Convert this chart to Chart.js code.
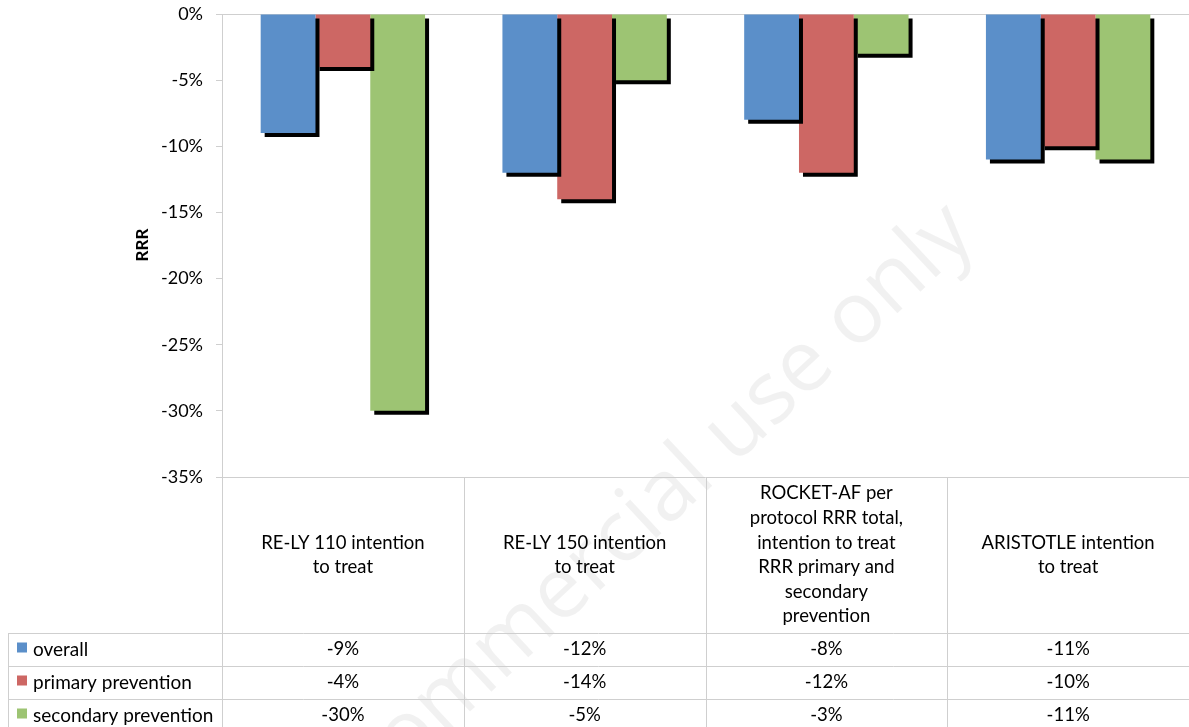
<!DOCTYPE html>
<html>
<head>
<meta charset="utf-8">
<script src="https://cdn.jsdelivr.net/npm/chart.js@4"></script>
<style>
  html, body { margin: 0; padding: 0; background: #fff; }
  #wrap { position: relative; width: 1189px; height: 727px; overflow: hidden; }
</style>
</head>
<body>
<div id="wrap"><canvas id="rrrChart" width="1189" height="727"></canvas></div>
<script>
// categories (multi-line, as printed in the table header)
const trials = [
  ["RE-LY 110 intention", "to treat"],
  ["RE-LY 150 intention", "to treat"],
  ["ROCKET-AF per", "protocol RRR total,", "intention to treat", "RRR primary and", "secondary", "prevention"],
  ["ARISTOTLE intention", "to treat"]
];

const overall = [-9, -12, -8, -11];
const primaryPrevention = [-4, -14, -12, -10];
const secondaryPrevention = [-30, -5, -3, -11];

const seriesNames = ["overall", "primary prevention", "secondary prevention"];
const seriesColors = ["#5b8fc9", "#cd6764", "#9dc473"];

const yTicks = [0, -5, -10, -15, -20, -25, -30, -35];

const FONT = "Lato, 'Open Sans', sans-serif";
const GRID = "#cfcfcf";
const INK = "#000";

// 🔹 drop shadow under the bars (black, no blur)
const barShadow = {
  id: "barShadow",
  beforeDatasetsDraw(chart) {
    const c = chart.ctx;
    c.save();
    c.shadowColor = "#000";
    c.shadowOffsetX = 4;
    c.shadowOffsetY = 4;
    c.shadowBlur = 0;
  },
  afterDatasetsDraw(chart) {
    chart.ctx.restore();
  }
};

// 🔹 watermark behind everything
const watermark = {
  id: "watermark",
  beforeDraw(chart) {
    const c = chart.ctx;
    c.save();
    c.translate(978, 238);
    c.rotate(-43 * Math.PI / 180);
    c.font = "86px 'Open Sans', sans-serif";
    c.fillStyle = "rgba(0,0,0,0.055)";
    c.textAlign = "right";
    c.textBaseline = "alphabetic";
    c.fillText("non-commercial use only", 0, 0);
    c.restore();
  }
};

// 🔹 data table under the plot + axis title
const dataTable = {
  id: "dataTable",
  afterDraw(chart) {
    const c = chart.ctx;
    const area = chart.chartArea;
    const x = chart.scales.x;
    const colW = (area.right - area.left) / trials.length;
    const headTop = area.bottom;
    const headH = 156;
    const rowH = 33;
    const rowsTop = headTop + headH;
    const legendLeft = 8;
    const values = [overall, primaryPrevention, secondaryPrevention];

    c.save();
    c.strokeStyle = GRID;
    c.lineWidth = 1;

    // horizontal lines
    c.beginPath();
    c.moveTo(area.left, Math.round(headTop) + 0.5);
    c.lineTo(area.right, Math.round(headTop) + 0.5);
    for (let r = 0; r <= values.length; r++) {
      const yy = Math.round(rowsTop + r * rowH) + 0.5;
      c.moveTo(legendLeft, yy);
      c.lineTo(area.right, yy);
    }
    // vertical lines
    for (let i = 0; i <= trials.length; i++) {
      const xx = Math.round(area.left + i * colW) + 0.5;
      c.moveTo(xx, headTop);
      c.lineTo(xx, chart.height);
    }
    c.moveTo(legendLeft + 0.5, rowsTop);
    c.lineTo(legendLeft + 0.5, chart.height);
    c.stroke();

    // header labels
    c.fillStyle = INK;
    c.font = "18.5px " + FONT;
    c.textAlign = "center";
    c.textBaseline = "middle";
    const lineH = 24.6;
    trials.forEach((lines, i) => {
      const cx = x.getPixelForValue(i);
      const cy = headTop + headH / 2;
      const start = cy - (lines.length - 1) * lineH / 2;
      lines.forEach((t, k) => c.fillText(t, cx, start + k * lineH));
    });

    // value rows
    values.forEach((arr, r) => {
      const cy = rowsTop + r * rowH + rowH / 2;
      arr.forEach((v, i) => {
        c.fillText(v + "%", x.getPixelForValue(i), cy);
      });
      c.fillStyle = seriesColors[r];
      c.fillRect(legendLeft + 9, cy - 7, 10, 10);
      c.fillStyle = INK;
      c.textAlign = "left";
      c.font = "19px " + FONT;
      c.fillText(seriesNames[r], legendLeft + 25, cy);
      c.font = "18.5px " + FONT;
      c.textAlign = "center";
    });

    // y axis title
    c.save();
    c.translate(143, 245);
    c.rotate(-Math.PI / 2);
    c.font = "bold 17px " + FONT;
    c.fillText("RRR", 0, 0);
    c.restore();

    c.restore();
  }
};

const ctx = document.getElementById("rrrChart").getContext("2d");

new Chart(ctx, {
  type: "bar",
  data: {
    labels: trials,
    datasets: [
      { label: seriesNames[0], data: overall, backgroundColor: seriesColors[0] },
      { label: seriesNames[1], data: primaryPrevention, backgroundColor: seriesColors[1] },
      { label: seriesNames[2], data: secondaryPrevention, backgroundColor: seriesColors[2] }
    ]
  },
  options: {
    responsive: false,
    animation: false,
    events: [],
    layout: { padding: { top: 14, right: 0, bottom: 250, left: 0 } },
    datasets: {
      bar: { barPercentage: 1, categoryPercentage: 0.68, borderWidth: 0 }
    },
    scales: {
      x: { display: false },
      y: {
        min: -35,
        max: 0,
        afterBuildTicks(scale) {
          scale.ticks = yTicks.map(v => ({ value: v }));
        },
        afterFit(scale) {
          scale.width = 222;
          scale.paddingTop = 0;
          scale.paddingBottom = 0;
        },
        border: { color: GRID },
        grid: {
          color: c => (c.tick && c.tick.value === 0) ? GRID : "rgba(0,0,0,0)",
          tickColor: GRID,
          tickLength: 6
        },
        ticks: {
          padding: 13,
          color: INK,
          font: { family: FONT, size: 18 },
          callback: v => v + "%"
        }
      }
    },
    plugins: {
      legend: { display: false },
      tooltip: { enabled: false }
    }
  },
  plugins: [watermark, barShadow, dataTable]
});
</script>
</body>
</html>
